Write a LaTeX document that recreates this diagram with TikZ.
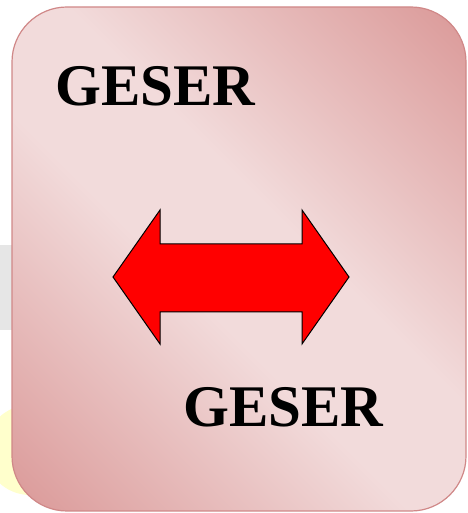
\documentclass[tikz,border=0pt]{standalone}
\usepackage{fontspec}
\setmainfont{Liberation Serif}
\usetikzlibrary{positioning}
\definecolor{cardpink}{RGB}{217,149,148}
\definecolor{cardlight}{RGB}{242,219,219}
\definecolor{cardedge}{RGB}{208,136,136}
\definecolor{markgray}{RGB}{230,230,230}
\definecolor{markyellow}{RGB}{255,255,204}
% dark - light - dark, light band kept broad
\pgfdeclareverticalshading{cardshade}{100bp}{color(0bp)=(cardpink); color(13bp)=(cardpink);
  color(44bp)=(cardlight); color(56bp)=(cardlight); color(87bp)=(cardpink); color(100bp)=(cardpink)}

\begin{document}
\begin{tikzpicture}[x=1pt, y=1pt,
    card/.style={draw=cardedge, line width=1.2pt, rounded corners=55pt,
      shading=cardshade, shading angle=-45},
    word/.style={font=\fontsize{59}{62}\selectfont\bfseries, inner sep=0pt, anchor=base west},
    bigarrow/.style={draw=black, line width=1pt, fill=red, line join=miter}]
  \useasboundingbox (0,0) rectangle (467,513);

  % faint marks behind the card
  \fill[markyellow] (30,63) circle (45);
  \fill[markgray] (0,268) -- (16,268) -- (16,183) -- (0,183) -- cycle;

  % card
  \path[card] (12,2) rectangle (466,506);

  % labels
  \node[word] (top) at (55,407) {GESER};
  \node[word] (bot) at (183,86) {GESER};

  % double arrow
  \coordinate (tipl) at (113,236);
  \coordinate (tipr) at (349,236);
  \draw[bigarrow] (tipl) -- (160,303) -- (160,269) -- (302,269) -- (302,303)
    -- (tipr) -- (302,169) -- (302,201) -- (160,201) -- (160,169) -- cycle;
\end{tikzpicture}
\end{document}
